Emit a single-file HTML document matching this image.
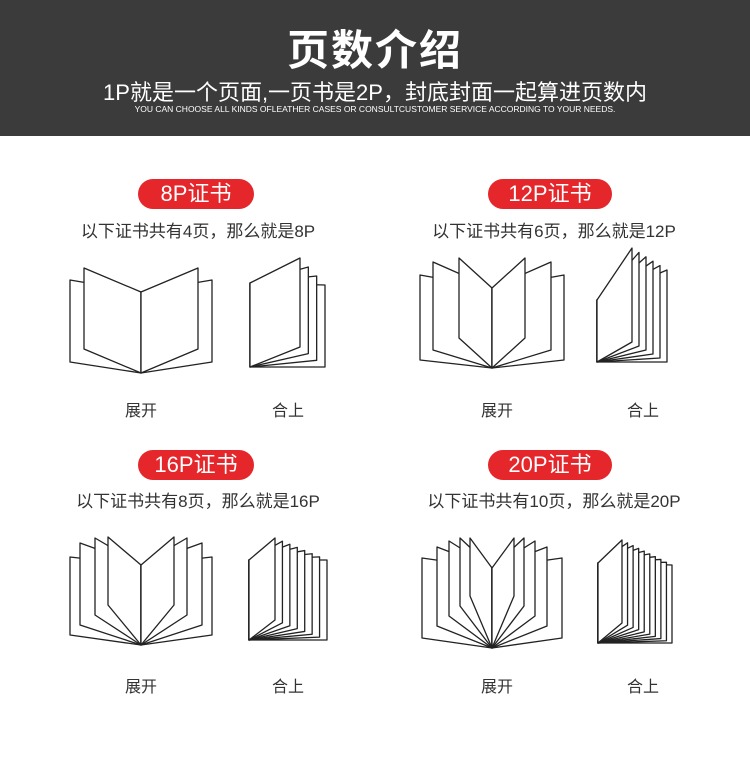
<!DOCTYPE html><html><head><meta charset="utf-8"><style>
body{margin:0;width:750px;height:762px;background:#fff;position:relative;overflow:hidden;font-family:"Liberation Sans","Noto Sans CJK SC",sans-serif;}
.hd{position:absolute;left:0;top:0;width:750px;height:136px;background:#3b3b3b;color:#fff;text-align:center}
.t{position:absolute;left:0;width:750px;text-align:center}
.pill{position:absolute;height:30px;line-height:30px;background:#e5262b;color:#fff;border-radius:15px;font-size:22px;text-align:center}
.d{position:absolute;font-size:17px;color:#333;text-align:center;width:320px}
.l{position:absolute;font-size:16px;color:#333;width:60px;text-align:center}
svg{position:absolute;left:0;top:0}
</style></head><body>
<div class="hd">
<div class="t" style="top:17px;font-size:42px;font-weight:bold;letter-spacing:2px">页数介绍</div>
<div class="t" style="top:75px;font-size:22px">1P就是一个页面,一页书是2P，封底封面一起算进页数内</div>
<div class="t" style="top:104px;font-size:8.5px">YOU CAN CHOOSE ALL KINDS OFLEATHER CASES OR CONSULTCUSTOMER SERVICE ACCORDING TO YOUR NEEDS.</div>
</div>
<div class="pill" style="left:138px;top:179px;width:116px">8P证书</div>
<div class="pill" style="left:488px;top:179px;width:124px">12P证书</div>
<div class="pill" style="left:138px;top:450px;width:116px">16P证书</div>
<div class="pill" style="left:488px;top:450px;width:124px">20P证书</div>
<div class="d" style="left:38px;top:217px">以下证书共有4页，那么就是8P</div>
<div class="d" style="left:394px;top:217px">以下证书共有6页，那么就是12P</div>
<div class="d" style="left:38px;top:487px">以下证书共有8页，那么就是16P</div>
<div class="d" style="left:394px;top:487px">以下证书共有10页，那么就是20P</div>
<div class="l" style="left:111px;top:397px">展开</div><div class="l" style="left:258px;top:397px">合上</div>
<div class="l" style="left:467px;top:397px">展开</div><div class="l" style="left:613px;top:397px">合上</div>
<div class="l" style="left:111px;top:673px">展开</div><div class="l" style="left:258px;top:673px">合上</div>
<div class="l" style="left:467px;top:673px">展开</div><div class="l" style="left:613px;top:673px">合上</div>
<svg id="s" width="750" height="762" viewBox="0 0 750 762"></svg>
<script>
var s='';
function poly(p){s+='<polygon points="'+p.map(function(a){return a[0]+','+a[1]}).join(' ')+'" fill="#fff" stroke="#222" stroke-width="1.3" stroke-linejoin="round"/>';}
function open(cx,by,st,pages){
 for(var k=0;k<2;k++){var m=k?-1:1;
  pages.forEach(function(p){poly([[cx+m*p[0],by+p[1]],[cx+m*p[0],by+p[2]],[cx,by],[cx,by+st]]);});}
}
function closed(lx,by,lt,n,a,b,t0,t1){
 for(var j=n-1;j>=0;j--){var f=n>1?j/(n-1):0;
  var rx=lx+a+(b-a)*f, rt=by+t0+(t1-t0)*f, rb=by-20*(1-f);
  poly([[lx,by+lt],[rx,rt],[rx,rb],[lx,by]]);}
}
open(141,373,-81,[[-71,-93,-11],[-57,-105,-24]]);
open(492,368,-80,[[-72,-93,-8],[-59,-106,-18],[-33,-110,-30]]);
open(141,645,-80,[[-71,-88,-10],[-61,-102,-20],[-46,-107,-30],[-33,-108,-40]]);
open(492,648,-80,[[-70,-90,-10],[-55,-101,-22],[-43,-107,-32],[-32,-110,-42],[-22,-110,-52]]);
closed(250,367,-84,4,50,75,-109,-82);
closed(597,362,-62,6,35,70,-114,-92);
closed(249,640,-80,8,26,78,-102,-80);
closed(598,643,-80,10,24,74,-103,-78);
document.getElementById('s').innerHTML=s;
</script>
</body></html>
